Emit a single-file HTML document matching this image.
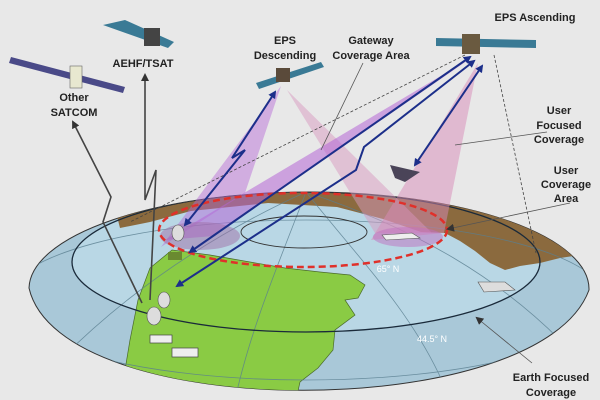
<!DOCTYPE html>
<html><head><meta charset="utf-8"><style>
html,body{margin:0;padding:0;background:#e8e8e8;}
svg{display:block}
text{font-family:"Liberation Sans",sans-serif;font-weight:bold;font-size:11px;fill:#222;text-anchor:middle}
</style></head><body>
<svg width="600" height="400" viewBox="0 0 600 400" xmlns="http://www.w3.org/2000/svg">
<defs>
<marker id="ab" markerWidth="8" markerHeight="8" refX="6" refY="4" orient="auto-start-reverse" markerUnits="userSpaceOnUse"><path d="M0,0 L8,4 L0,8 z" fill="#1c2f8a"/></marker>
<marker id="ag" markerWidth="8" markerHeight="8" refX="6" refY="4" orient="auto" markerUnits="userSpaceOnUse"><path d="M0,0 L8,4 L0,8 z" fill="#333"/></marker>
<clipPath id="dome"><path d="M29,288 A280,97 0 0 1 589,290 C540,424 60,424 29,288 Z"/></clipPath>
</defs>
<rect width="600" height="400" fill="#e8e8e8"/>
<path d="M29,288 A280,97 0 0 1 589,290 C540,424 60,424 29,288 Z" fill="#a9c8d8" stroke="#333" stroke-width="1"/>
<g clip-path="url(#dome)">
<ellipse cx="306" cy="262" rx="234" ry="70" fill="#b9d7e5"/>
<path d="M120,228 L150,222 L191,211 L268,203 L337,207 L383,219 L421,232 L445,233 L460,241 L475,251 L490,263 L505,270 L520,266 L540,263 L560,258 L600,252 L600,150 L100,150 Z" fill="#8b6a3e"/>
<path d="M150,268 L172,250 L210,255 L250,262 L285,268 L320,272 L350,275 L365,285 L358,298 L345,300 L355,315 L335,330 L333,350 L318,368 L300,382 L296,400 L120,400 L130,340 L138,300 Z" fill="#8acb44" stroke="#4a6a2a" stroke-width="0.7"/>
<g fill="none" stroke="#5a7f90" stroke-width="0.8" opacity="0.8">
<path d="M306,192 C280,260 250,330 235,400"/>
<path d="M306,192 C360,260 420,320 450,400"/>
<path d="M306,192 C200,240 120,300 60,360"/>
<path d="M306,192 C420,230 500,280 560,340"/>
<ellipse cx="306" cy="300" rx="300" ry="80"/>
</g>
<ellipse cx="306" cy="262" rx="234" ry="70" fill="none" stroke="#1a2a3a" stroke-width="1.3"/>
<ellipse cx="304" cy="232" rx="63" ry="16" fill="none" stroke="#333" stroke-width="0.9"/>
</g>
<polygon points="281,86 161,247 245,193" fill="#b566d6" opacity="0.45"/>
<polygon points="287,90 375,233 432,233" fill="#d79ac0" opacity="0.5"/>
<polygon points="471,58 165,240 214,236" fill="#b566d6" opacity="0.55"/>
<polygon points="478,63 371,240 444,233" fill="#d88ab8" opacity="0.5"/>
<ellipse cx="200" cy="236" rx="40" ry="14" fill="#a070a8" opacity="0.5"/>
<ellipse cx="408" cy="237" rx="35" ry="10" fill="#c070c0" opacity="0.5"/>
<ellipse cx="303" cy="230" rx="144" ry="37" fill="none" stroke="#e0302a" stroke-width="2.5" stroke-dasharray="7,4"/>
<line x1="465" y1="55" x2="130" y2="222" stroke="#444" stroke-width="0.8" stroke-dasharray="3,2"/>
<line x1="494" y1="55" x2="536" y2="253" stroke="#444" stroke-width="0.8" stroke-dasharray="3,2"/>
<g fill="none" stroke="#1c2f8a" stroke-width="2" marker-start="url(#ab)" marker-end="url(#ab)">
<polyline points="275,92 232,158 245,150 185,225"/>
<line x1="470" y1="57" x2="190" y2="252"/>
<polyline points="474,61 364,147 356,170 177,286"/>
<line x1="482" y1="66" x2="415" y2="165"/>
</g>
<g fill="none" stroke="#444" stroke-width="1.6">
<polyline points="142,303 103,222 111,197 73,122" marker-end="url(#ag)"/>
<polyline points="150,300 156,170 145,200 145,75" marker-end="url(#ag)"/>
</g>
<g stroke="#555" stroke-width="0.8" fill="none">
<line x1="363" y1="63" x2="321" y2="150"/>
<line x1="547" y1="132" x2="455" y2="145"/>
<line x1="570" y1="203" x2="448" y2="229" marker-end="url(#ag)"/>
<line x1="532" y1="363" x2="477" y2="318" marker-end="url(#ag)"/>
</g>
<path d="M382,235 L412,233 L420,238 L386,240 Z" fill="#eee" stroke="#555" stroke-width="0.6"/>
<path d="M390,165 L420,172 L405,182 L395,178 Z" fill="#4a4458"/>
<path d="M478,282 L505,282 L515,290 L484,292 Z" fill="#ddd" stroke="#555" stroke-width="0.6"/>
<ellipse cx="178" cy="233" rx="6" ry="8" fill="#ddd" stroke="#555" stroke-width="0.6"/>
<rect x="168" y="252" width="14" height="8" fill="#6a8a30"/>
<ellipse cx="164" cy="300" rx="6" ry="8" fill="#ddd" stroke="#555" stroke-width="0.6"/>
<ellipse cx="154" cy="316" rx="7" ry="9" fill="#ddd" stroke="#555" stroke-width="0.6"/>
<rect x="150" y="335" width="22" height="8" fill="#eee" stroke="#444" stroke-width="0.7"/>
<rect x="172" y="348" width="26" height="9" fill="#eee" stroke="#444" stroke-width="0.7"/>
<g>
<polygon points="436,38 536,40 536,48 436,46" fill="#3a7a95"/>
<rect x="462" y="34" width="18" height="20" fill="#6a5a40"/>
<polygon points="256,83 321,62 324,67 259,89" fill="#3a7a95"/>
<rect x="276" y="68" width="14" height="14" fill="#5a4a3a"/>
<polygon points="103,25 125,20 174,42 168,48" fill="#3a7a95"/>
<rect x="144" y="28" width="16" height="18" fill="#444"/>
<polygon points="11,57 125,87 123,93 9,63" fill="#4a4a88"/>
<rect x="70" y="66" width="12" height="22" fill="#e8e8d0" stroke="#666" stroke-width="0.6"/>
</g>
<text x="535" y="21">EPS Ascending</text>
<text x="285" y="44">EPS</text>
<text x="285" y="59">Descending</text>
<text x="371" y="44">Gateway</text>
<text x="371" y="59">Coverage Area</text>
<text x="143" y="67">AEHF/TSAT</text>
<text x="74" y="101">Other</text>
<text x="74" y="116">SATCOM</text>
<text x="559" y="114">User</text>
<text x="559" y="129">Focused</text>
<text x="559" y="143">Coverage</text>
<text x="566" y="174">User</text>
<text x="566" y="188">Coverage</text>
<text x="566" y="202">Area</text>
<text x="551" y="381">Earth Focused</text>
<text x="551" y="396">Coverage</text>
<text x="388" y="272" style="font-size:9px;fill:#fff;font-weight:normal">65° N</text>
<text x="432" y="342" style="font-size:9px;fill:#fff;font-weight:normal">44.5° N</text>
</svg>
</body></html>
